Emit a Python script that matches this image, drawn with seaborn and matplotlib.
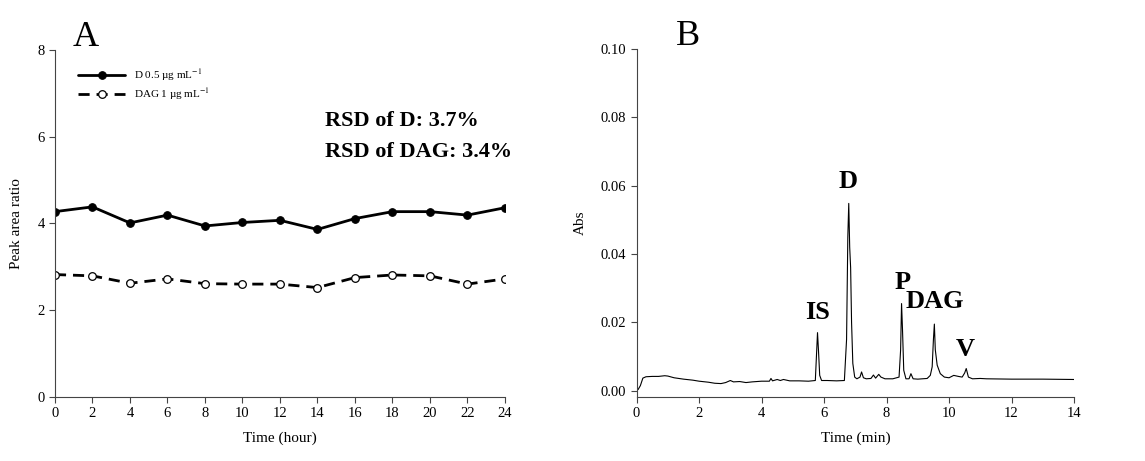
import numpy as np
import pandas as pd
import matplotlib
matplotlib.use("Agg")
import matplotlib.pyplot as plt
import seaborn as sns

# panel A: stability over 24 h
hours = [0, 2, 4, 6, 8, 10, 12, 14, 16, 18, 20, 22, 24]
ratio_d = [4.27, 4.38, 4.01, 4.19, 3.94, 4.02, 4.07, 3.86, 4.11, 4.27, 4.27, 4.19, 4.36]
ratio_dag = [2.82, 2.79, 2.62, 2.72, 2.61, 2.60, 2.60, 2.52, 2.75, 2.81, 2.79, 2.60, 2.72]

# panel B: electropherogram trace (time in min, absorbance)
trace_t = [0.00, 0.05, 0.12, 0.20, 0.30, 0.50, 0.70, 0.90, 1.00, 1.20, 1.50, 1.80,
           2.00, 2.30, 2.50, 2.70, 2.85, 3.00, 3.10, 3.30, 3.50, 3.70, 4.00, 4.25,
           4.30, 4.35, 4.50, 4.60, 4.70, 4.90, 5.20, 5.50, 5.72, 5.76, 5.79, 5.82,
           5.86, 5.92, 6.10, 6.40, 6.65, 6.72, 6.76, 6.79, 6.82, 6.85, 6.88, 6.92,
           6.98, 7.05, 7.15, 7.20, 7.26, 7.35, 7.50, 7.58, 7.65, 7.75, 7.82, 7.95,
           8.20, 8.40, 8.45, 8.48, 8.51, 8.55, 8.62, 8.72, 8.78, 8.85, 9.00, 9.30,
           9.40, 9.46, 9.50, 9.53, 9.56, 9.62, 9.72, 9.85, 10.00, 10.15, 10.30, 10.42,
           10.50, 10.55, 10.62, 10.75, 11.00, 11.20, 12.00, 13.00, 14.00]
trace_abs = [0.0000, 0.0004, 0.0015, 0.0037, 0.0041, 0.0042, 0.0042, 0.0044, 0.0043, 0.0038, 0.0034, 0.0031,
             0.0028, 0.0025, 0.0022, 0.0021, 0.0024, 0.0030, 0.0026, 0.0027, 0.0024, 0.0026, 0.0028, 0.0028,
             0.0036, 0.0029, 0.0033, 0.0030, 0.0033, 0.0029, 0.0029, 0.0028, 0.0030, 0.0110, 0.0170, 0.0120,
             0.0045, 0.0030, 0.0030, 0.0029, 0.0030, 0.0150, 0.0450, 0.0548, 0.0420, 0.0360, 0.0200, 0.0080,
             0.0040, 0.0035, 0.0040, 0.0055, 0.0038, 0.0035, 0.0036, 0.0046, 0.0037, 0.0048, 0.0040, 0.0035,
             0.0035, 0.0040, 0.0120, 0.0255, 0.0180, 0.0060, 0.0035, 0.0035, 0.0050, 0.0035, 0.0034, 0.0036,
             0.0045, 0.0070, 0.0150, 0.0195, 0.0120, 0.0075, 0.0050, 0.0040, 0.0038, 0.0045, 0.0042, 0.0040,
             0.0052, 0.0065, 0.0040, 0.0035, 0.0036, 0.0035, 0.0034, 0.0034, 0.0033]

peak_names = ["IS", "D", "P", "DAG", "V"]
peak_t = [5.80, 6.78, 8.50, 9.55, 10.52]
peak_y = [0.0195, 0.0578, 0.0284, 0.0226, 0.0088]

sns.set_style("ticks")
plt.rcParams["font.family"] = ["Liberation Serif", "DejaVu Serif"]
plt.rcParams["mathtext.fontset"] = "stix"
plt.rcParams["text.color"] = "black"
plt.rcParams["axes.labelcolor"] = "black"
plt.rcParams["xtick.color"] = "black"
plt.rcParams["ytick.color"] = "black"

fig = plt.figure(figsize=(11.45, 4.61), dpi=100)
ax1 = fig.add_axes([0.048, 0.139, 0.393, 0.753])
ax2 = fig.add_axes([0.556, 0.139, 0.382, 0.755])

df = pd.DataFrame({"hour": hours, "d": ratio_d, "dag": ratio_dag})
sns.lineplot(data=df, x="hour", y="d", ax=ax1, color="black", lw=2, marker="o",
             markersize=5.5, markerfacecolor="black", markeredgecolor="black",
             label="D 0.5 µg mL$^{-1}$")
sns.lineplot(data=df, x="hour", y="dag", ax=ax1, color="black", lw=2, marker="o",
             markersize=5.5, markerfacecolor="white", markeredgecolor="black",
             markeredgewidth=0.9, linestyle=(0, (4, 2.5)), label="DAG 1 µg mL$^{-1}$")
ax1.set_xlim(0, 24)
ax1.set_ylim(0, 8)
ax1.set_xticks(range(0, 25, 2))
ax1.set_yticks([0, 2, 4, 6, 8])
ax1.set_xlabel("Time (hour)", fontsize=11, labelpad=8)
ax1.set_ylabel("Peak area ratio", fontsize=11, labelpad=10)
leg = ax1.legend(loc="upper left", bbox_to_anchor=(0.03, 0.98), frameon=False,
                 fontsize=8, handlelength=4.2, labelspacing=0.3)
ax1.text(0.60, 0.78, "RSD of D: 3.7%", transform=ax1.transAxes, fontsize=16,
         fontweight="bold")
ax1.text(0.60, 0.69, "RSD of DAG: 3.4%", transform=ax1.transAxes, fontsize=16,
         fontweight="bold")
ax1.text(0.04, 1.01, "A", transform=ax1.transAxes, fontsize=26)

sns.lineplot(x=trace_t, y=trace_abs, ax=ax2, color="black", lw=0.8, sort=False,
             estimator=None)
ax2.set_xlim(0, 14)
ax2.set_ylim(-0.0018, 0.10)
ax2.set_xticks(range(0, 15, 2))
ax2.set_yticks([0.00, 0.02, 0.04, 0.06, 0.08, 0.10])
ax2.set_yticklabels(["0.00", "0.02", "0.04", "0.06", "0.08", "0.10"])
ax2.set_xlabel("Time (min)", fontsize=11, labelpad=8)
ax2.set_ylabel("Abs", fontsize=11, labelpad=10)
for name, t, y in zip(peak_names, peak_t, peak_y):
    ax2.text(t, y, name, ha="center", va="bottom", fontsize=19, fontweight="bold")
ax2.text(0.09, 1.01, "B", transform=ax2.transAxes, fontsize=26)

for ax in (ax1, ax2):
    sns.despine(ax=ax)
    ax.tick_params(labelsize=10.5, length=4, width=0.8, color="#444444")
    for s in ("left", "bottom"):
        ax.spines[s].set_linewidth(0.8)
        ax.spines[s].set_color("#444444")

fig.savefig("out.png", dpi=100)
